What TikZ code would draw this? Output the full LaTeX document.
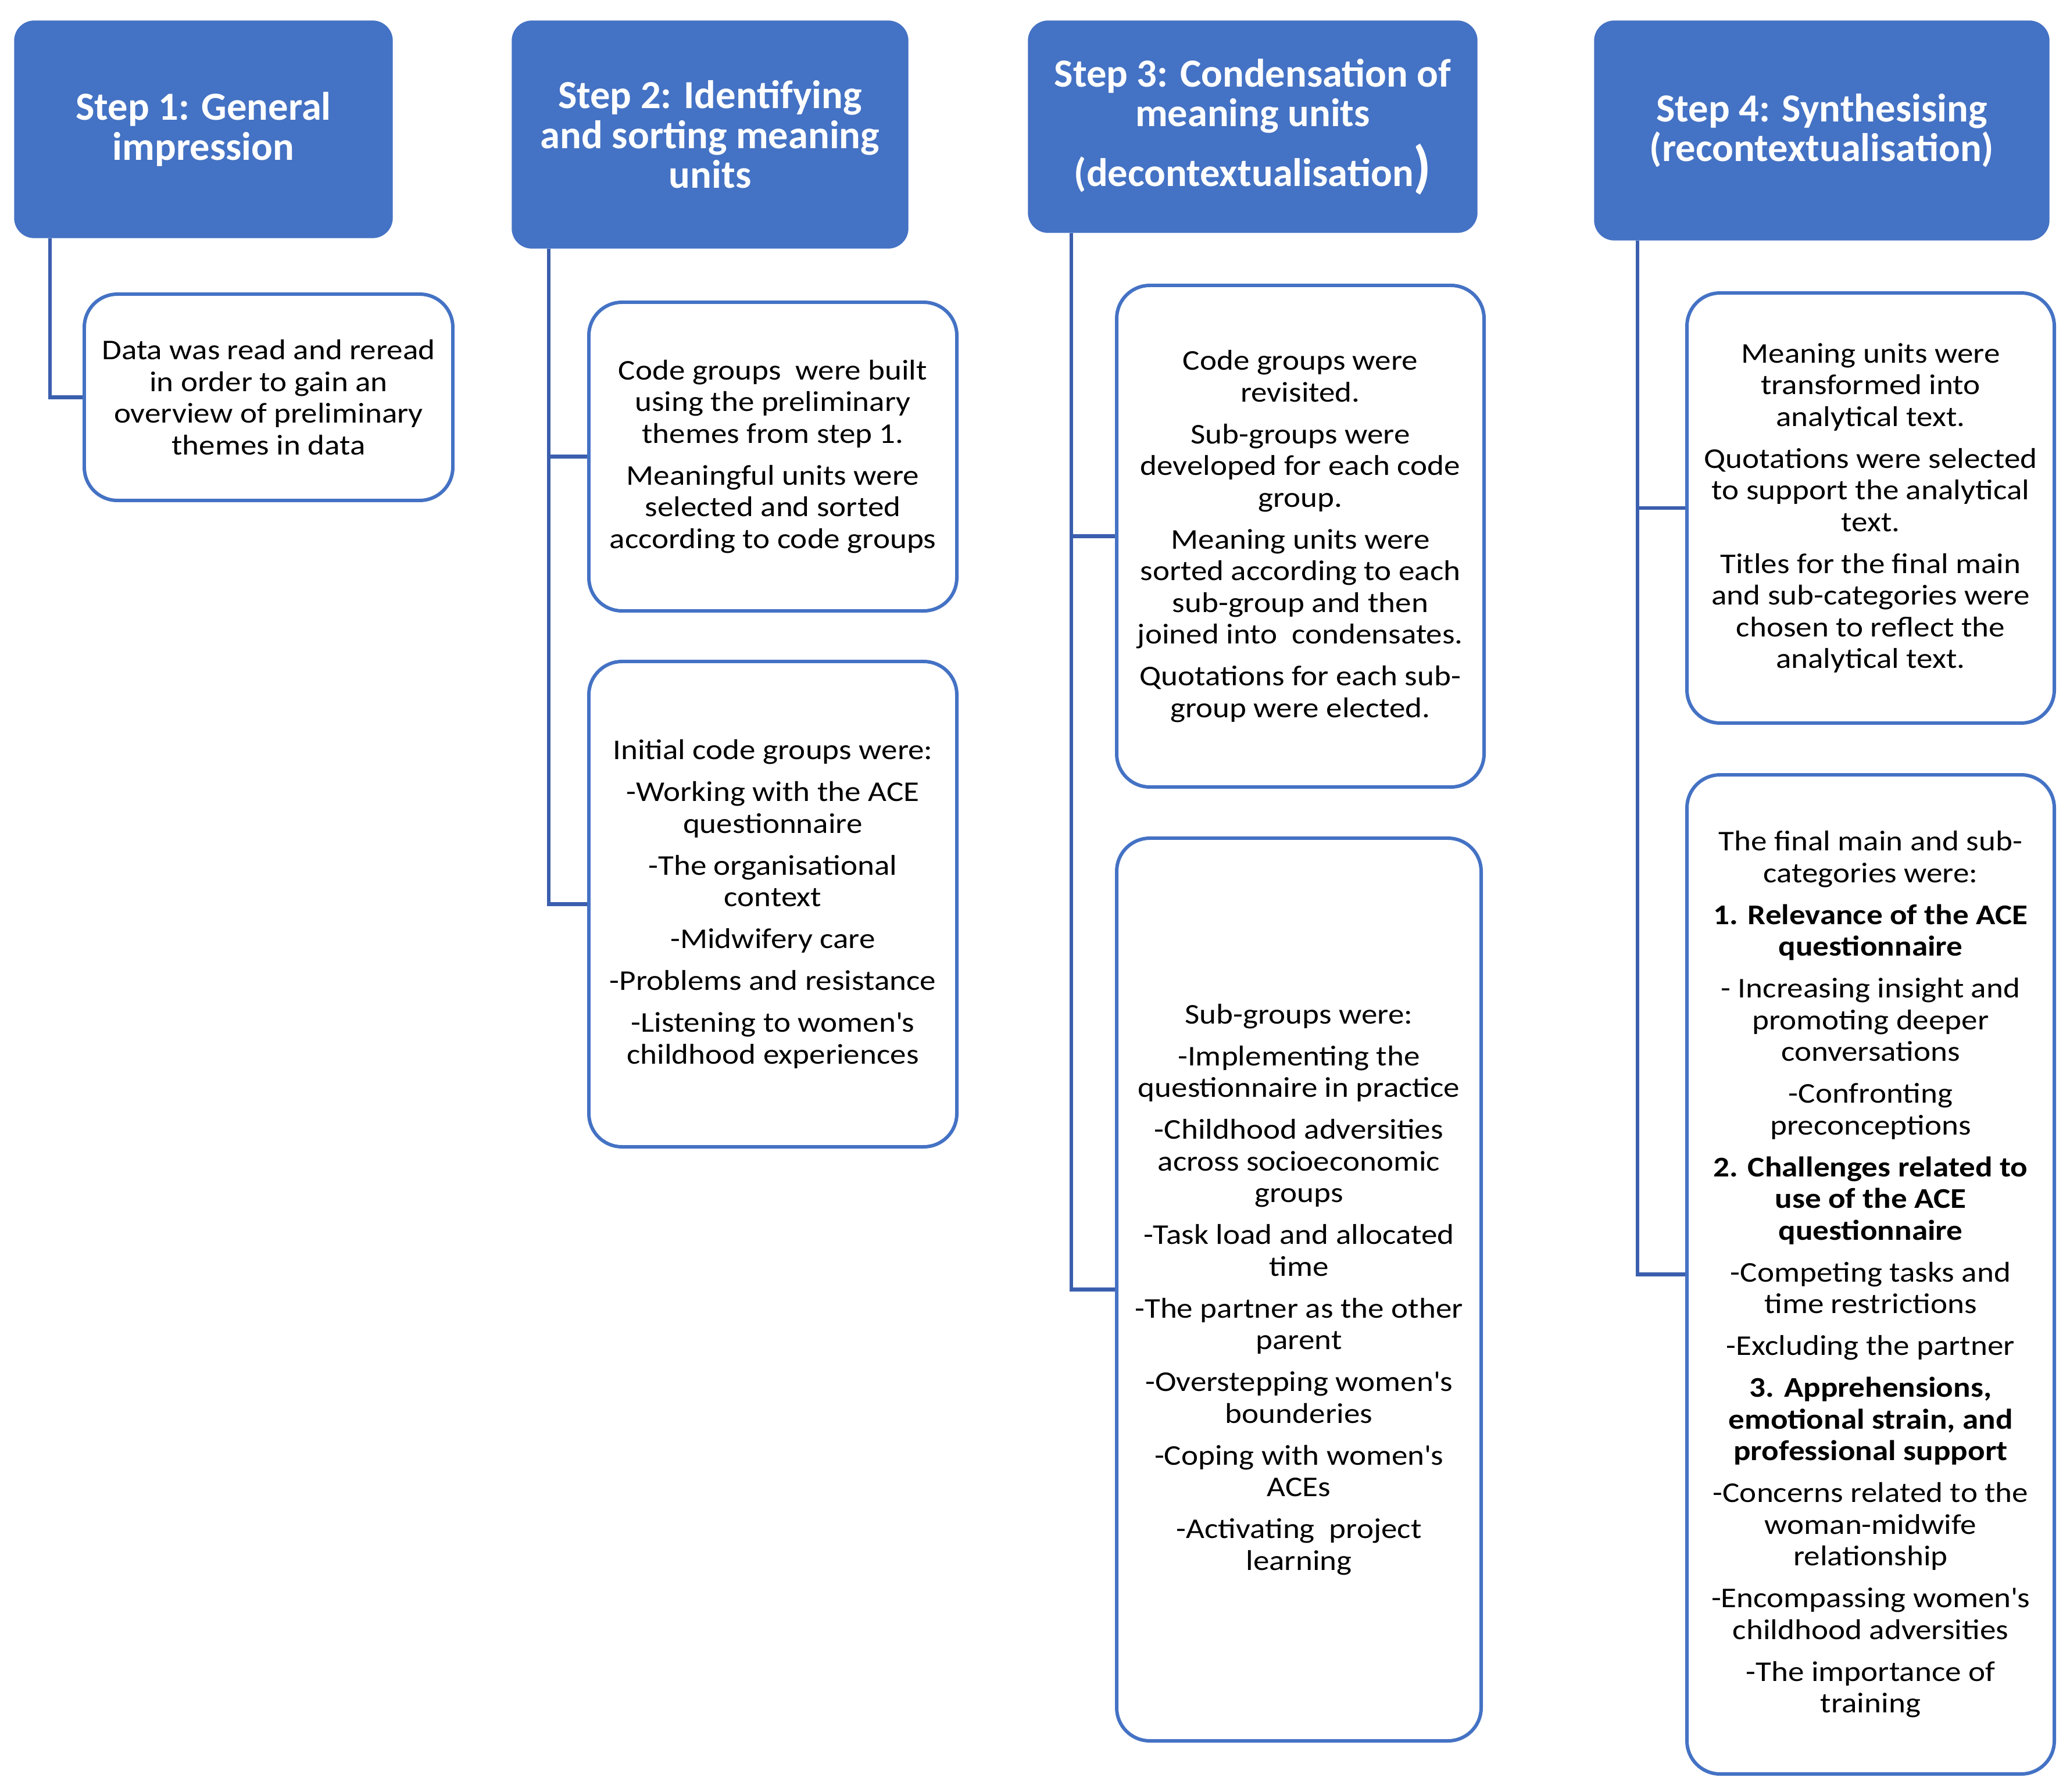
\documentclass[tikz,border=0pt]{standalone}
\usepackage{fontspec}
\setmainfont{Carlito}
\newfontfamily\boxfont[FakeStretch=1.12]{Carlito}
\usepackage{xcolor}
\usetikzlibrary{positioning}
\definecolor{headblue}{HTML}{4472C4}
\definecolor{lineblue}{HTML}{3B5FAE}

\begin{document}
\begin{tikzpicture}[stephead/.style={draw=headblue, fill=headblue, rounded corners=3.4mm, text=white, align=center, font=\fontsize{19.5}{19.5}\selectfont\bfseries, inner sep=0pt},
                    stepbox/.style={draw=headblue, line width=1.7pt, fill=white, rounded corners=5.7mm, text=black, align=center, font=\boxfont\fontsize{14}{15.5}\selectfont, inner sep=0pt},
                    link/.style={draw=lineblue, line width=1.8pt}]
                        \useasboundingbox (0,0) rectangle (35.61,-30.83);
                        \node[stephead, minimum width=6.50cm, minimum height=3.73cm] (h1) at (3.50, -2.225) {Step 1: General\\ impression};
                        \node[stephead, minimum width=6.81cm, minimum height=3.91cm] (h2) at (12.215, -2.315) {Step 2: Identifying\\ and sorting meaning\\ units};
                        \node[stephead, minimum width=7.72cm, minimum height=3.64cm] (h3) at (21.55, -2.18) {Step 3: Condensation of\\ meaning units\\[4pt] (decontextualisation{\fontsize{28}{28}\selectfont)}};
                        \node[stephead, minimum width=7.82cm, minimum height=3.77cm] (h4) at (31.34, -2.245) {Step 4: Synthesising\\ (recontextualisation)};
                        \node[stepbox, minimum width=6.34cm, minimum height=3.55cm] (b1) at (4.62, -6.835) {Data was read and reread\\ in order to gain an\\ overview of preliminary\\ themes in data};
                        \node[stepbox, minimum width=6.33cm, minimum height=5.31cm] (b2a) at (13.295, -7.855) {Code groups\ \ were built\\ using the preliminary\\ themes from step 1.\\[5pt] Meaningful units were\\ selected and sorted\\ according to code groups};
                        \node[stepbox, minimum width=6.33cm, minimum height=8.35cm] (b2b) at (13.295, -15.555) {Initial code groups were:\\[5pt] -Working with the ACE\\ questionnaire\\[5pt] -The organisational\\ context\\[5pt] -Midwifery care\\[5pt] -Problems and resistance\\[5pt] -Listening to women\textquotesingle s\\ childhood experiences};
                        \node[stepbox, minimum width=6.32cm, minimum height=8.63cm] (b3a) at (22.37, -9.225) {Code groups were\\ revisited.\\[5pt] Sub-groups were\\ developed for each code\\ group.\\[5pt] Meaning units were\\ sorted according to each\\ sub-group and then\\ joined into\ \ condensates.\\[5pt] Quotations for each sub-\\ group were elected.};
                        \node[stepbox, minimum width=6.27cm, minimum height=15.53cm] (b3b) at (22.345, -22.185) {Sub-groups were:\\[5pt] -Implementing the\\ questionnaire in practice\\[5pt] -Childhood adversities\\ across socioeconomic\\ groups\\[5pt] -Task load and allocated\\ time\\[5pt] -The partner as the other\\ parent\\[5pt] -Overstepping women\textquotesingle s\\ bounderies\\[5pt] -Coping with women\textquotesingle s\\ ACEs\\[5pt] -Activating\ \ project\\ learning};
                        \node[stepbox, minimum width=6.32cm, minimum height=7.40cm] (b4a) at (32.18, -8.74) {Meaning units were\\ transformed into\\ analytical text.\\[5pt] Quotations were selected\\ to support the analytical\\ text.\\[5pt] Titles for the final main\\ and sub-categories were\\ chosen to reflect the\\ analytical text.};
                        \node[stepbox, minimum width=6.32cm, minimum height=17.19cm] (b4b) at (32.18, -21.925) {The final main and sub-\\ categories were:\\[5pt] \textbf{1. Relevance of the ACE}\\ \textbf{questionnaire}\\[5pt] - Increasing insight and\\ promoting deeper\\ conversations\\[5pt] -Confronting\\ preconceptions\\[5pt] \textbf{2. Challenges related to}\\ \textbf{use of the ACE}\\ \textbf{questionnaire}\\[5pt] -Competing tasks and\\ time restrictions\\[5pt] -Excluding the partner\\[5pt] \textbf{3. Apprehensions,}\\ \textbf{emotional strain, and}\\ \textbf{professional support}\\[5pt] -Concerns related to the\\ woman-midwife\\ relationship\\[5pt] -Encompassing women\textquotesingle s\\ childhood adversities\\[5pt] -The importance of\\ training};
                        \draw [link] (h1.south west) ++(0.62,0) |- (b1.west);
                        \draw [link] (h2.south west) ++(0.64,0) |- (b2a.west);
                        \draw [link] (h2.south west) ++(0.64,0) |- (b2b.west);
                        \draw [link] (h3.south west) ++(0.75,0) |- (b3a.west);
                        \draw [link] (h3.south west) ++(0.75,0) |- (b3b.west);
                        \draw [link] (h4.south west) ++(0.75,0) |- (b4a.west);
                        \draw [link] (h4.south west) ++(0.75,0) |- (b4b.west);
                        \end{tikzpicture}
\end{document}
